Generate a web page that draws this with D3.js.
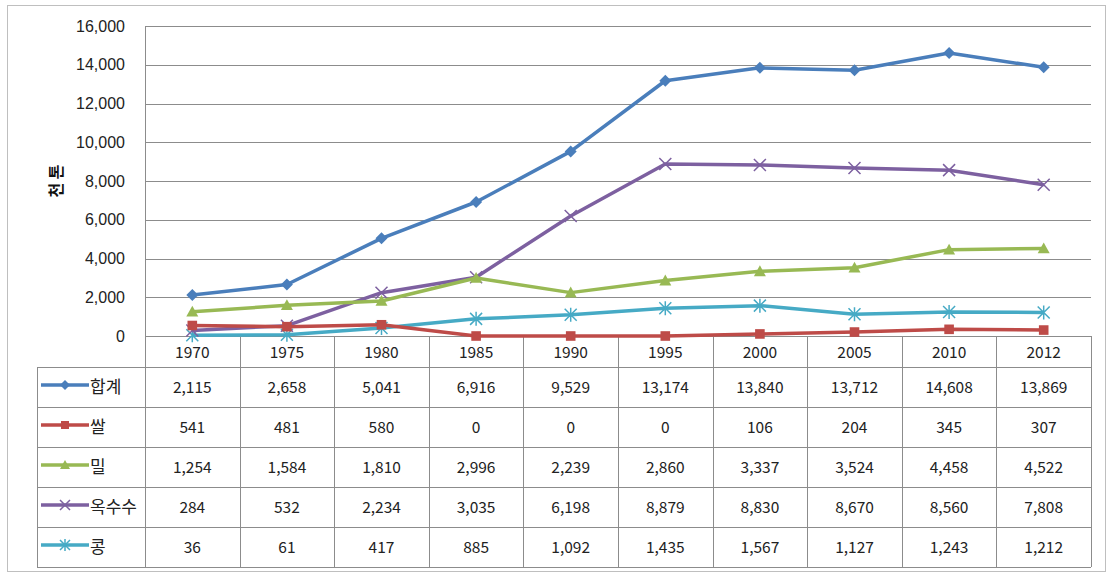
<!DOCTYPE html>
<html>
<head>
<meta charset="utf-8">
<script src="https://cdn.jsdelivr.net/npm/d3@7"></script>
<style>
  body { margin: 0; background: #fff; }
  svg { display: block; font-family: "Noto Sans CJK KR", "Noto Sans", sans-serif; }
</style>
</head>
<body>
<svg width="1107" height="573"></svg>
<script>
// data (thousand tonnes)
var years = ["1970", "1975", "1980", "1985", "1990", "1995", "2000", "2005", "2010", "2012"];
var seriesNames = ["합계", "쌀", "밀", "옥수수", "콩"];
var total = [2115, 2658, 5041, 6916, 9529, 13174, 13840, 13712, 14608, 13869];
var rice = [541, 481, 580, 0, 0, 0, 106, 204, 345, 307];
var wheat = [1254, 1584, 1810, 2996, 2239, 2860, 3337, 3524, 4458, 4522];
var corn = [284, 532, 2234, 3035, 6198, 8879, 8830, 8670, 8560, 7808];
var soy = [36, 61, 417, 885, 1092, 1435, 1567, 1127, 1243, 1212];
var yTicks = [0, 2000, 4000, 6000, 8000, 10000, 12000, 14000, 16000];
var colors = ["#4a7ebb", "#be4b48", "#98b954", "#7d60a0", "#46aac5"];
var markers = ["diamond", "square", "triangle", "cross", "star"];

var allValues = [total, rice, wheat, corn, soy];

var svg = d3.select("svg");
var plot = {left: 145, right: 1091, top: 26, bottom: 336};
var rowTop = 367, rowH = 40, legendLeft = 37;

var x = d3.scaleBand().domain(years).range([plot.left, plot.right]);
var y = d3.scaleLinear().domain([0, 16000]).range([plot.bottom, plot.top]);
var fmt = d3.format(",");

// outer frame
svg.append("rect")
    .attr("x", 7.5).attr("y", 5.5)
    .attr("width", 1098).attr("height", 566)
    .attr("fill", "none").attr("stroke", "#bfbfbf");

// gridlines
svg.append("g")
    .selectAll("line")
    .data(yTicks)
    .join("line")
    .attr("x1", plot.left).attr("x2", plot.right)
    .attr("y1", function(d) { return Math.round(y(d)) + 0.5; })
    .attr("y2", function(d) { return Math.round(y(d)) + 0.5; })
    .attr("stroke", "#8c8c8c");

// y axis
var yAxis = svg.append("g")
    .attr("transform", "translate(" + plot.left + ",0)")
    .call(d3.axisLeft(y).tickValues(yTicks).tickFormat(fmt).tickSize(0).tickPadding(20));
yAxis.select(".domain").attr("stroke", "#8c8c8c");
yAxis.selectAll("text")
    .attr("font-size", 16)
    .attr("fill", "#222");

svg.append("text")
    .attr("transform", "translate(62,181) rotate(-90)")
    .attr("text-anchor", "middle")
    .attr("font-size", 16)
    .attr("font-weight", "bold")
    .attr("fill", "#111")
    .text("천 톤");

// data table grid
var grid = svg.append("g").attr("stroke", "#8c8c8c").attr("fill", "none");
// vertical lines at band edges
var edges = years.map(function(d) { return x(d); }).concat([plot.right]);
grid.selectAll("line.v")
    .data(edges)
    .join("line")
    .attr("class", "v")
    .attr("x1", function(d) { return Math.round(d) + 0.5; })
    .attr("x2", function(d) { return Math.round(d) + 0.5; })
    .attr("y1", plot.bottom).attr("y2", rowTop + rowH * 5);
grid.append("line")
    .attr("x1", legendLeft + 0.5).attr("x2", legendLeft + 0.5)
    .attr("y1", rowTop).attr("y2", rowTop + rowH * 5);
grid.selectAll("line.h")
    .data(d3.range(6))
    .join("line")
    .attr("class", "h")
    .attr("x1", legendLeft).attr("x2", plot.right)
    .attr("y1", function(i) { return rowTop + i * rowH + 0.5; })
    .attr("y2", function(i) { return rowTop + i * rowH + 0.5; });

// year header
svg.append("g")
    .selectAll("text")
    .data(years)
    .join("text")
    .attr("x", function(d) { return x(d) + x.bandwidth() / 2; })
    .attr("y", plot.bottom + 22)
    .attr("text-anchor", "middle")
    .attr("font-size", 15.5)
    .attr("fill", "#222")
    .text(function(d) { return d; });

function drawMarker(g, type, color, size) {
  var s = size;
  if (type === "diamond") {
    g.append("path").attr("d", "M0," + (-s) + "L" + s + ",0L0," + s + "L" + (-s) + ",0Z").attr("fill", color);
  } else if (type === "square") {
    g.append("rect").attr("x", -s * 0.8).attr("y", -s * 0.8).attr("width", s * 1.6).attr("height", s * 1.6).attr("fill", color);
  } else if (type === "triangle") {
    g.append("path").attr("d", "M0," + (-s) + "L" + s + "," + (s * 0.8) + "L" + (-s) + "," + (s * 0.8) + "Z").attr("fill", color);
  } else if (type === "cross") {
    g.append("path").attr("d", "M" + (-s) + "," + (-s) + "L" + s + "," + s + "M" + (-s) + "," + s + "L" + s + "," + (-s))
        .attr("stroke", color).attr("stroke-width", 1.5);
  } else if (type === "star") {
    g.append("path").attr("d", "M" + (-s) + "," + (-s) + "L" + s + "," + s + "M" + (-s) + "," + s + "L" + s + "," + (-s) + "M0," + (-s - 1) + "L0," + (s + 1))
        .attr("stroke", color).attr("stroke-width", 1.5);
  }
}

var line = d3.line()
    .x(function(d, i) { return x(years[i]) + x.bandwidth() / 2; })
    .y(function(d) { return y(d); });

// lines drawn from last series to first so the total sits on top
for (var k = allValues.length - 1; k >= 0; k--) {
  svg.append("path")
      .datum(allValues[k])
      .attr("d", line)
      .attr("fill", "none")
      .attr("stroke", colors[k])
      .attr("stroke-width", 3.5)
      .attr("stroke-linejoin", "round");
  allValues[k].forEach(function(v, i) {
    var g = svg.append("g")
        .attr("transform", "translate(" + (x(years[i]) + x.bandwidth() / 2) + "," + y(v) + ")");
    drawMarker(g, markers[k], colors[k], 6);
  });
}

// table rows: legend key + values
seriesNames.forEach(function(name, k) {
  var cy = rowTop + k * rowH + rowH / 2;
  svg.append("line")
      .attr("x1", legendLeft + 4).attr("x2", legendLeft + 52)
      .attr("y1", cy - 2).attr("y2", cy - 2)
      .attr("stroke", colors[k]).attr("stroke-width", 3.5);
  var g = svg.append("g").attr("transform", "translate(" + (legendLeft + 28) + "," + (cy - 2) + ")");
  drawMarker(g, markers[k], colors[k], 5);
  svg.append("text")
      .attr("x", legendLeft + 53)
      .attr("y", cy + 6)
      .attr("font-size", 17)
      .attr("fill", "#222")
      .text(name);
  svg.append("g")
      .selectAll("text")
      .data(allValues[k])
      .join("text")
      .attr("x", function(d, i) { return x(years[i]) + x.bandwidth() / 2; })
      .attr("y", cy + 6)
      .attr("text-anchor", "middle")
      .attr("font-size", 15.5)
      .attr("fill", "#222")
      .text(function(d) { return fmt(d); });
});
</script>
</body>
</html>
